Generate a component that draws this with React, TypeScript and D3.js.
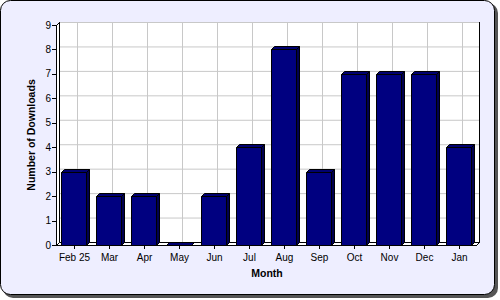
import React from "react";
import * as d3 from "d3";

const months = ["Feb 25", "Mar", "Apr", "May", "Jun", "Jul", "Aug", "Sep", "Oct", "Nov", "Dec", "Jan"];
const downloads = [3, 2, 2, 0, 2, 4, 8, 3, 7, 7, 7, 4];
const yTicks = [0, 1, 2, 3, 4, 5, 6, 7, 8, 9];

const W = 500, H = 300;
const left = 56, right = 476, top = 25, bottom = 245;
const D = 3; // 3D depth
const font = "'Liberation Sans', Arial, sans-serif";

export default function App() {
  const x = d3.scaleBand<string>().domain(months).range([left, right]);
  const y = d3.scaleLinear().domain([0, 9]).range([bottom, top]);
  const bw = x.bandwidth() * 0.72;
  const navy = "#000080";

  return (
    <svg width={W} height={H} style={{ display: "block", position: "absolute", left: 0, top: 0 }}>
      {/* background with shadow */}
      <rect x={3} y={3} width={495} height={295} rx={10} fill="#555" />
      <rect x={0.5} y={0.5} width={494} height={294} rx={10} fill="#eeeeff" stroke="#000" />
      {/* back wall */}
      <rect x={left + D + 0.5} y={top - D + 0.5} width={right - left} height={bottom - top} fill="#fff" stroke="#000" />
      {/* grid */}
      {yTicks.slice(1).map((t) => (
        <line key={"h" + t} x1={left + D + 1} x2={right + D} y1={y(t) - D + 0.5} y2={y(t) - D + 0.5} stroke="#c8c8c8" />
      ))}
      {months.map((m) => {
        const cx = Math.round((x(m) as number) + x.bandwidth() / 2 + D) + 0.5;
        return <line key={"v" + m} x1={cx} x2={cx} y1={top - D + 1} y2={bottom - D} stroke="#c8c8c8" />;
      })}
      {/* left side wall */}
      <path d={`M${left + 0.5},${top + 0.5}L${left + D + 0.5},${top - D + 0.5}L${left + D + 0.5},${bottom - D + 0.5}L${left + 0.5},${bottom + 0.5}Z`} fill="#fff" stroke="#000" />
      {/* floor */}
      <path d={`M${left + 0.5},${bottom + 0.5}L${right + 0.5},${bottom + 0.5}L${right + D + 0.5},${bottom - D + 0.5}L${left + D + 0.5},${bottom - D + 0.5}Z`} fill="#fff" stroke="#000" />
      {/* bars */}
      {months.map((m, i) => {
        const cx = (x(m) as number) + x.bandwidth() / 2;
        const x0 = Math.round(cx - bw / 2) + 0.5;
        const x1 = x0 + Math.round(bw);
        const yt = Math.round(y(downloads[i])) + 0.5;
        const yb = bottom + 0.5;
        return (
          <g key={m} stroke="#000" strokeLinejoin="round">
            <path d={`M${x1},${yb}L${x1 + D},${yb - D}L${x1 + D},${yt - D}L${x1},${yt}Z`} fill="#000050" />
            <path d={`M${x0},${yt}L${x0 + D},${yt - D}L${x1 + D},${yt - D}L${x1},${yt}Z`} fill="#000070" />
            <rect x={x0} y={yt} width={x1 - x0} height={yb - yt} fill={navy} />
          </g>
        );
      })}
      {/* axes */}
      <line x1={left + 0.5} x2={left + 0.5} y1={top} y2={bottom + 1} stroke="#000" />
      <line x1={left} x2={right + 1} y1={bottom + 0.5} y2={bottom + 0.5} stroke="#000" />
      {yTicks.map((t) => (
        <g key={"yt" + t}>
          <line x1={left - 4} x2={left} y1={Math.round(y(t)) + 0.5} y2={Math.round(y(t)) + 0.5} stroke="#000" />
          <text x={left - 5} y={y(t)} dy="0.35em" textAnchor="end" fontFamily={font} fontSize={10} fill="#000">{t}</text>
        </g>
      ))}
      {months.map((m) => {
        const cx = Math.round((x(m) as number) + x.bandwidth() / 2) + 0.5;
        return (
          <g key={"xt" + m}>
            <line x1={cx} x2={cx} y1={bottom} y2={bottom + 4} stroke="#000" />
            <text x={cx} y={bottom + 16} textAnchor="middle" fontFamily={font} fontSize={10} fill="#000">{m}</text>
          </g>
        );
      })}
      <text x={(left + right) / 2 + 1} y={277} textAnchor="middle" fontFamily={font} fontSize={10.5} fontWeight="bold" fill="#000">Month</text>
      <text transform={`translate(35,${(top + bottom) / 2}) rotate(-90)`} textAnchor="middle" fontFamily={font} fontSize={10.5} fontWeight="bold" fill="#000">Number of Downloads</text>
    </svg>
  );
}
